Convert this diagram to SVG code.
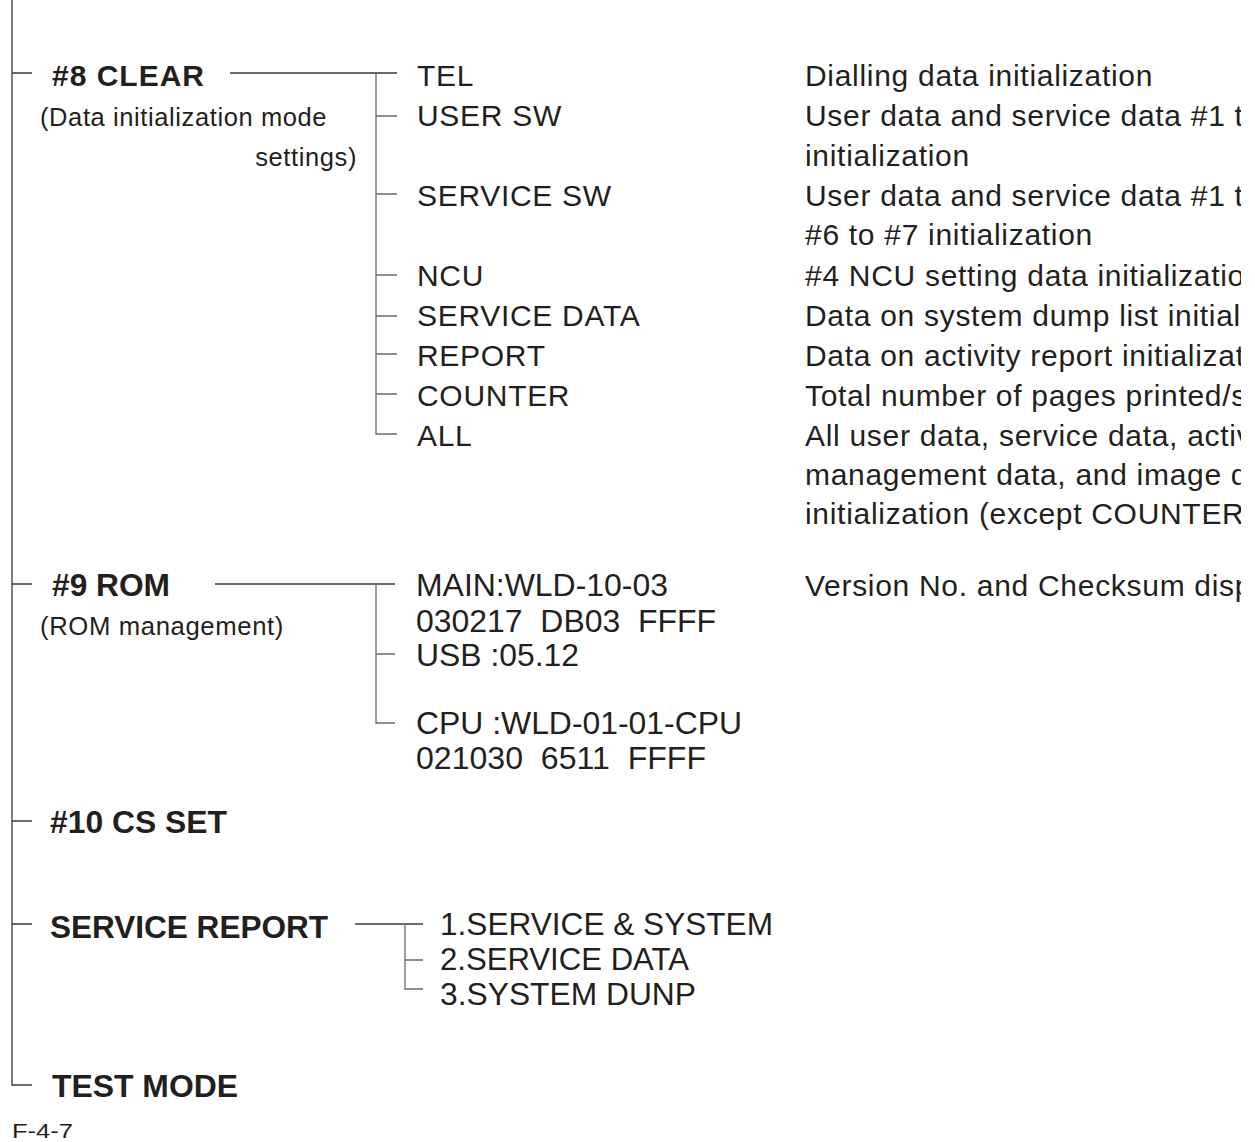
<svg xmlns="http://www.w3.org/2000/svg" width="1255" height="1142" viewBox="0 0 1255 1142">
<defs>
<clipPath id="page"><rect x="0" y="0" width="1241" height="1142"/></clipPath>
<style>
text{font-family:"Liberation Sans",Arial,sans-serif;fill:#231f20}
.b{font-weight:bold;font-size:30px;letter-spacing:1px}
.r{font-size:30px;letter-spacing:0.7px}
.s{font-size:25.5px;letter-spacing:0.6px}
.c{font-size:31px}
.cb{font-size:31px;font-weight:bold}
.ln{stroke:#3a3a3a;stroke-width:1.3;fill:none}
.sub{stroke:#6a6a6a;stroke-width:1.3;fill:none}
</style>
</defs>
<rect width="1255" height="1142" fill="#fff"/>
<g id="connectors">
<path class="ln" d="M12 0 V1085 H32"/>
<path class="ln" d="M12 73 H32 M12 584 H32 M12 821 H32 M12 924 H32"/>
<path class="ln" d="M230 73 H397"/>
<path class="sub" d="M376 73 V434 H397 M376 116 H397 M376 194 H397 M376 275 H397 M376 316 H397 M376 354 H397 M376 394 H397"/>
<path class="ln" d="M215 584 H395"/>
<path class="sub" d="M376 584 V723 H395 M376 654 H395"/>
<path class="ln" d="M355 924 H423"/>
<path class="sub" d="M405 924 V989 H423 M405 960 H423"/>
</g>
<g id="clear">
<text class="b" x="52" y="86">#8 CLEAR</text>
<text class="s" x="40" y="126">(Data initialization mode</text>
<text class="s" x="357" y="166" text-anchor="end">settings)</text>
</g>
<g id="clear-items">
<text class="r" x="417" y="86">TEL</text>
<text class="r" x="417" y="126">USER SW</text>
<text class="r" x="417" y="206">SERVICE SW</text>
<text class="r" x="417" y="286">NCU</text>
<text class="r" x="417" y="326">SERVICE DATA</text>
<text class="r" x="417" y="366">REPORT</text>
<text class="r" x="417" y="406">COUNTER</text>
<text class="r" x="417" y="446">ALL</text>
</g>
<g id="descriptions" clip-path="url(#page)">
<text class="r" x="805" y="86">Dialling data initialization</text>
<text class="r" x="805" y="126">User data and service data #1 t</text>
<text class="r" x="805" y="166">initialization</text>
<text class="r" x="805" y="206">User data and service data #1 t</text>
<text class="r" x="805" y="245">#6 to #7 initialization</text>
<text class="r" x="805" y="286">#4 NCU setting data initializatio</text>
<text class="r" x="805" y="326">Data on system dump list initial</text>
<text class="r" x="805" y="366">Data on activity report initializat</text>
<text class="r" x="805" y="406">Total number of pages printed/s</text>
<text class="r" x="805" y="446">All user data, service data, activ</text>
<text class="r" x="805" y="485">management data, and image d</text>
<text class="r" x="805" y="524">initialization (except COUNTER</text>
<text class="r" x="805" y="596">Version No. and Checksum disp</text>
</g>
<g id="rom">
<text class="cb" x="52" y="596" textLength="118" lengthAdjust="spacingAndGlyphs">#9 ROM</text>
<text class="s" x="40" y="635" textLength="244" lengthAdjust="spacingAndGlyphs">(ROM management)</text>
</g>
<g id="rom-items">
<text class="c" x="416" y="596" textLength="252" lengthAdjust="spacingAndGlyphs">MAIN:WLD-10-03</text>
<text class="c" x="416" y="632" textLength="300" lengthAdjust="spacingAndGlyphs" xml:space="preserve">030217  DB03  FFFF</text>
<text class="c" x="416" y="666" textLength="163" lengthAdjust="spacingAndGlyphs">USB :05.12</text>
<text class="c" x="416" y="734" textLength="326" lengthAdjust="spacingAndGlyphs">CPU :WLD-01-01-CPU</text>
<text class="c" x="416" y="769" textLength="290" lengthAdjust="spacingAndGlyphs" xml:space="preserve">021030  6511  FFFF</text>
</g>
<g id="cs-set">
<text class="cb" x="50" y="833" textLength="177" lengthAdjust="spacingAndGlyphs">#10 CS SET</text>
</g>
<g id="service-report">
<text class="cb" x="50" y="938" textLength="278" lengthAdjust="spacingAndGlyphs">SERVICE REPORT</text>
</g>
<g id="report-items">
<text class="c" x="440" y="935" textLength="333" lengthAdjust="spacingAndGlyphs">1.SERVICE &amp; SYSTEM</text>
<text class="c" x="440" y="970" textLength="249" lengthAdjust="spacingAndGlyphs">2.SERVICE DATA</text>
<text class="c" x="440" y="1005" textLength="256" lengthAdjust="spacingAndGlyphs">3.SYSTEM DUNP</text>
</g>
<g id="test-mode">
<text class="cb" x="52" y="1097" textLength="186" lengthAdjust="spacingAndGlyphs">TEST MODE</text>
</g>
<g id="caption">
<text x="12" y="1138" font-size="21" textLength="61" lengthAdjust="spacingAndGlyphs">F-4-7</text>
</g>
</svg>
